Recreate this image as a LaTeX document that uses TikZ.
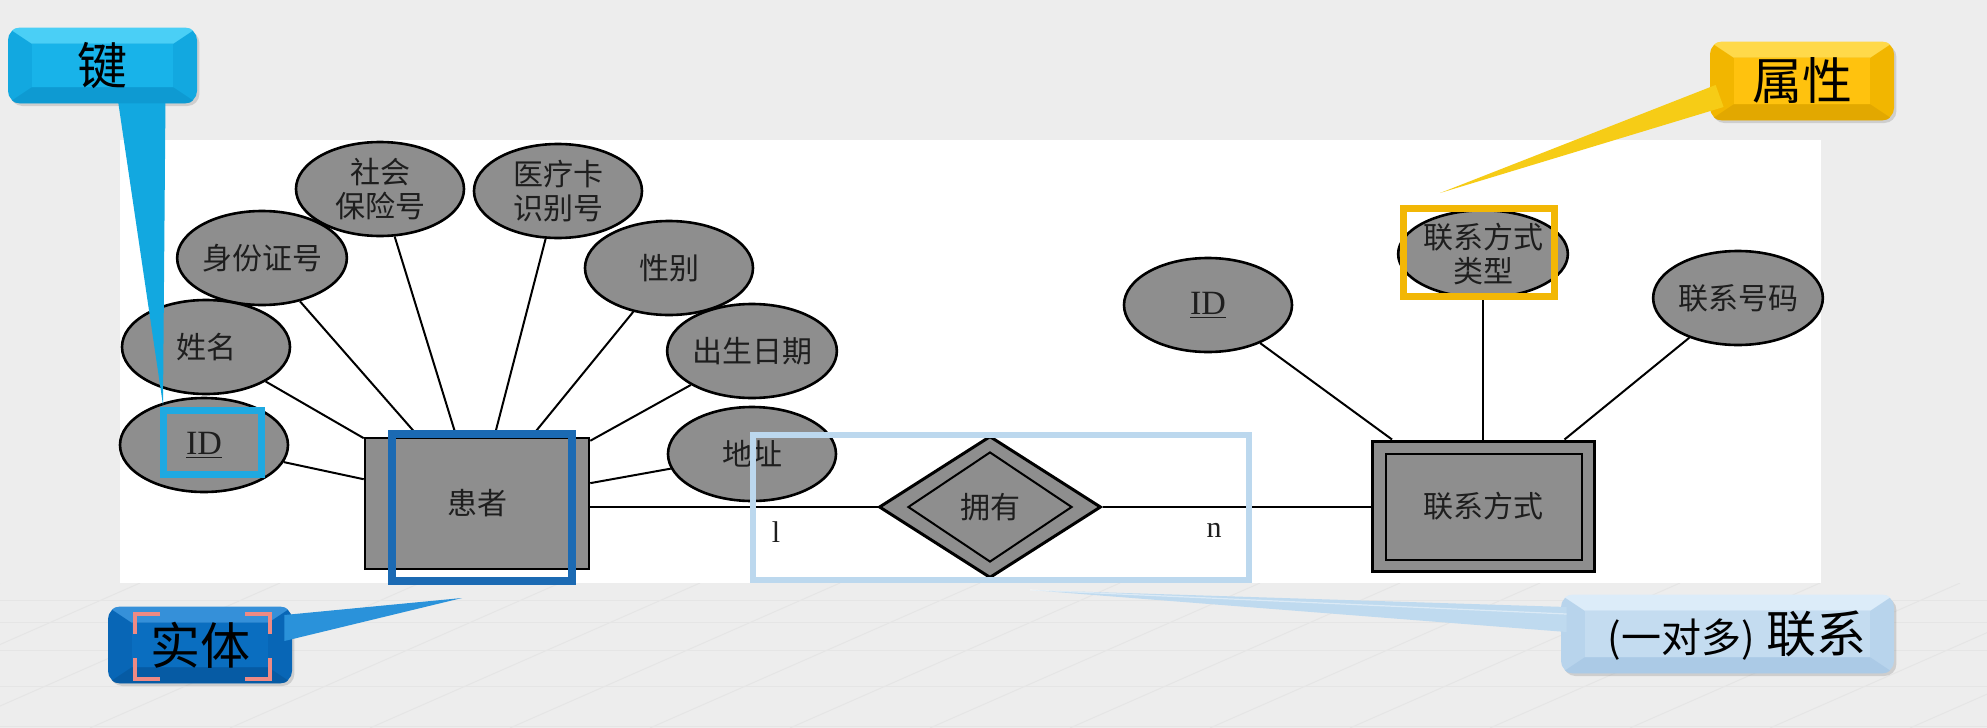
\documentclass[tikz,border=0pt]{standalone}
\usepackage{fontspec}
\newfontfamily\cjk{Noto Sans CJK SC}
\newfontfamily\tnr{Liberation Serif}
\usetikzlibrary{shapes.geometric,calc,shadows}
\definecolor{bg}{HTML}{EDEDED}
\definecolor{floorline}{HTML}{E5E5E5}
\definecolor{ergray}{HTML}{8E8E8E}
\definecolor{ertext}{HTML}{1E1E1E}
\definecolor{hlcyan}{HTML}{1FA9E1}
\definecolor{hlblue}{HTML}{1B6AB3}
\definecolor{hllight}{HTML}{BCD8EE}
\definecolor{hlgold}{HTML}{F2B705}
\definecolor{pinkbr}{HTML}{EE8A84}
\definecolor{keyface}{HTML}{18B3E9}
\definecolor{keytop}{HTML}{4ACFF6}
\definecolor{keybot}{HTML}{0E9AD2}
\definecolor{keyside}{HTML}{12A8E0}
\definecolor{entface}{HTML}{0A6EC0}
\definecolor{enttop}{HTML}{3590D9}
\definecolor{entbot}{HTML}{065BA4}
\definecolor{entside}{HTML}{0866B6}
\definecolor{enttail}{HTML}{2A92DA}
\definecolor{attface}{HTML}{FFC20E}
\definecolor{atttop}{HTML}{FFD94A}
\definecolor{attbot}{HTML}{E2A800}
\definecolor{attside}{HTML}{F2B600}
\definecolor{atttail}{HTML}{F6CC16}
\definecolor{relface}{HTML}{C4DCF0}
\definecolor{reltop}{HTML}{DCECF9}
\definecolor{relbot}{HTML}{ABCAE6}
\definecolor{relside}{HTML}{B8D4EC}
\definecolor{reltail}{HTML}{BFDAEF}
\newcommand\bevelparts[4]{%
  \begin{scope}
    \clip[rounded corners=6pt] (#1.north west) rectangle (#1.south east);
    \fill[#2] (#1.north west) -- (#1.north east) -- ([shift={(-24,16)}]#1.north east) -- ([shift={(24,16)}]#1.north west) -- cycle;
    \fill[#4] (#1.south west) -- (#1.south east) -- ([shift={(-24,-16)}]#1.south east) -- ([shift={(24,-16)}]#1.south west) -- cycle;
    \fill[#3] ([shift={(24,16)}]#1.north west) rectangle ([shift={(-24,-16)}]#1.south east);
  \end{scope}}
\tikzset{
  attr/.style={ellipse, draw=black, line width=1.3pt, fill=ergray, inner sep=0pt,
    minimum width=84pt, minimum height=47pt, align=center, text=ertext,
    font=\cjk\fontsize{15}{17}\selectfont},
  entity/.style={rectangle, draw=black, line width=1.3pt, fill=ergray, inner sep=0pt,
    text=ertext, font=\cjk\fontsize{15}{17}\selectfont},
  link/.style={line width=1pt, draw=black},
  hlbox/.style={rectangle, draw=#1, line width=3.5pt, inner sep=0pt},
  callbox/.style={rectangle, rounded corners=6pt, inner sep=0pt, fill=#1,
    drop shadow={shadow xshift=1.2pt, shadow yshift=-1.5pt, opacity=0.28}},
  calltext/.style={inner sep=0pt, text=black, font=\cjk\fontsize{25}{28}\selectfont},
  cardlabel/.style={inner sep=0pt, text=ertext, font=\tnr\fontsize{15}{17}\selectfont},
}
\begin{document}
\begin{tikzpicture}[x=0.5pt,y=-0.5pt]
\useasboundingbox (0,0) rectangle (1987,728);
% background
\fill[bg] (0,0) rectangle (1987,728);
\begin{scope}
  \clip (0,583) rectangle (1987,728);
  \foreach \i in {-4,...,18} \draw[floorline, line width=0.5pt] (\i*140,583) -- (\i*140-330,728);
  \foreach \yy in {600,622,650,686,726} \draw[floorline, line width=0.5pt] (0,\yy) -- (1987,\yy);
\end{scope}
\fill[white] (120,140) rectangle (1821,583);

% ER diagram: entity 患者 and its attributes
\node[entity, minimum width=112pt, minimum height=65.5pt] (patient) at (477,503.5) {患者};
\node[attr] (ssn) at (380,189) {社会\\保险号};
\node[attr] (med) at (558,191) {医疗卡\\识别号};
\node[attr] (idcard) at (262,258) {身份证号};
\node[attr] (gender) at (669,268) {性别};
\node[attr] (pname) at (206,347) {姓名};
\node[attr] (birth) at (752,351) {出生日期};
\node[attr, font=\tnr\fontsize{17}{20}\selectfont] (pid) at (204,445) {\underline{ID}};
\node[attr] (addr) at (752,454) {地址};
\foreach \a in {ssn,med,idcard,gender,pname,birth,pid,addr}
  \draw[link] (\a) -- (patient);

% relationship
\node[diamond, draw=black, line width=1.5pt, fill=ergray, inner sep=0pt,
  minimum width=111pt, minimum height=71pt] (rel) at (990,507) {};
\node[diamond, draw=black, line width=1pt, inner sep=0pt, minimum width=82pt,
  minimum height=55pt, text=ertext, font=\cjk\fontsize{15}{17}\selectfont] (relin) at (rel) {拥有};

% weak entity 联系方式 and its attributes
\node[entity, line width=1.5pt, minimum width=111pt, minimum height=65pt] (contact) at (1483,506) {联系方式};
\draw[line width=1pt] ([shift={(15,14)}]contact.north west) rectangle ([shift={(-14,-13)}]contact.south east);
\node[attr] (cid) at (1208,305) {\tnr\fontsize{17}{20}\selectfont\underline{ID}};
\node[attr, minimum height=42pt] (ctype) at (1483,254) {联系方式\\类型};
\node[attr] (cnum) at (1738,298) {联系号码};
\foreach \a in {cid,ctype,cnum}
  \draw[link] (\a) -- (contact);

\draw[link] (patient.east |- rel.west) -- (rel.west);
\draw[link] (rel.east) -- (contact.west |- rel.east);
\node[cardlabel] (cardl) at (776,532) {l};
\node[cardlabel] (cardn) at (1214,530) {n};

% highlight boxes
\node[hlbox=hllight, line width=3pt, minimum width=248pt, minimum height=72.5pt] (relhl) at (1001,507.5) {};
\node[hlbox=hlcyan, minimum width=49pt, minimum height=32pt] (idhl) at (212.5,442.5) {};
\node[hlbox=hlblue, line width=3.75pt, minimum width=90pt, minimum height=73.5pt] (patienthl) at (482,507.5) {};
\node[hlbox=hlgold, minimum width=75.5pt, minimum height=44pt] (ctypehl) at (1479,252.5) {};

% callout: 键
\node[callbox=keyside, minimum width=94.5pt, minimum height=37.5pt] (keybox) at (102.5,65.5) {};
\coordinate (keytip) at (163,405);
\fill[keyside] ([shift={(15,-6)}]keybox.south) -- ([shift={(63,-6)}]keybox.south) -- (keytip) -- cycle;
\bevelparts{keybox}{keytop}{keyface}{keybot}
\node[calltext] (keytext) at (keybox) {键};

% callout: 实体
\node[callbox=entside, minimum width=92pt, minimum height=38pt] (entbox) at (200,645) {};
\coordinate (enttip) at (462,598);
\fill[enttail] ([shift={(-8,-30)}]entbox.east) -- (enttip) -- ([shift={(-8,-4)}]entbox.east) -- cycle;
\bevelparts{entbox}{enttop}{entface}{entbot}
\node[calltext] (enttext) at (entbox) {实体};
\draw[pinkbr, line width=2pt]
  (135,634) -- (135,614) -- (160,614)
  (245,614) -- (270,614) -- (270,634)
  (135,658) -- (135,679) -- (160,679)
  (245,679) -- (270,679) -- (270,658);

% callout: 属性
\node[callbox=attside, minimum width=92pt, minimum height=39pt] (attbox) at (1802,81) {};
\coordinate (atttip) at (1440,193);
\fill[atttail] ([shift={(6,4)}]attbox.west) -- ([shift={(14,26)}]attbox.west) -- (atttip) -- cycle;
\bevelparts{attbox}{atttop}{attface}{attbot}
\node[calltext] (atttext) at (attbox) {属性};

% callout: (一对多) 联系
\node[callbox=relside, minimum width=166.5pt, minimum height=39pt] (relbox) at (1727.5,634) {};
\coordinate (reltip) at (1030,590);
\fill[reltail] ([shift={(6,-27)}]relbox.west) -- (reltip) -- ([shift={(6,-2)}]relbox.west) -- cycle;
\draw[white, opacity=0.45, line width=0.6pt] ([shift={(6,-20)}]relbox.west) -- (reltip);
\bevelparts{relbox}{reltop}{relface}{relbot}
\node[calltext] (reltext) at (1737,636) {{\fontsize{20}{24}\selectfont (一对多)} 联系};
\end{tikzpicture}
\end{document}
